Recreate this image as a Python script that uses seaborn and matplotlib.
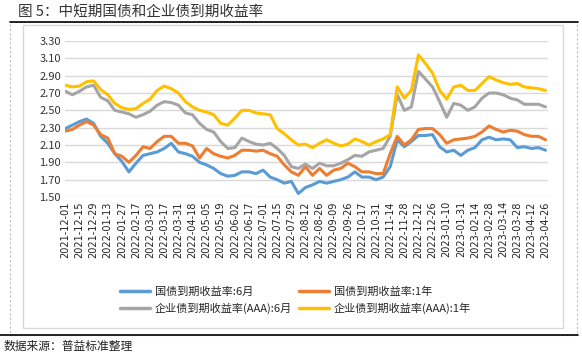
import numpy as np
import pandas as pd
import matplotlib
matplotlib.use("Agg")
import matplotlib.pyplot as plt
import seaborn as sns
from matplotlib.lines import Line2D
from matplotlib.patches import Rectangle

# trading dates, sampled every 5 trading days (ticks every 10)
dates = [
    "2021-12-01", "2021-12-08", "2021-12-15", "2021-12-22", "2021-12-29", "2022-01-06",
    "2022-01-13", "2022-01-20", "2022-01-27", "2022-02-10", "2022-02-17", "2022-02-24",
    "2022-03-03", "2022-03-10", "2022-03-17", "2022-03-24", "2022-03-31", "2022-04-11",
    "2022-04-18", "2022-04-25", "2022-05-05", "2022-05-12", "2022-05-19", "2022-05-26",
    "2022-06-02", "2022-06-10", "2022-06-17", "2022-06-24", "2022-07-01", "2022-07-08",
    "2022-07-15", "2022-07-22", "2022-07-29", "2022-08-05", "2022-08-12", "2022-08-19",
    "2022-08-26", "2022-09-02", "2022-09-09", "2022-09-19", "2022-09-26", "2022-10-10",
    "2022-10-17", "2022-10-24", "2022-10-31", "2022-11-07", "2022-11-14", "2022-11-21",
    "2022-11-28", "2022-12-05", "2022-12-12", "2022-12-19", "2022-12-26", "2023-01-03",
    "2023-01-10", "2023-01-17", "2023-01-31", "2023-02-07", "2023-02-14", "2023-02-21",
    "2023-02-28", "2023-03-07", "2023-03-14", "2023-03-21", "2023-03-28", "2023-04-04",
    "2023-04-12", "2023-04-19", "2023-04-26",
]

gov_6m = [
    2.29, 2.33, 2.37, 2.40, 2.35, 2.20, 2.12, 2.00, 1.91, 1.79, 1.89, 1.98,
    2.00, 2.02, 2.06, 2.12, 2.02, 2.00, 1.97, 1.90, 1.87, 1.83, 1.77, 1.74,
    1.75, 1.79, 1.79, 1.77, 1.81, 1.73, 1.70, 1.66, 1.68, 1.54, 1.61, 1.64,
    1.68, 1.66, 1.68, 1.70, 1.73, 1.79, 1.73, 1.73, 1.70, 1.73, 1.85, 2.16,
    2.08, 2.14, 2.21, 2.21, 2.22, 2.08, 2.02, 2.04, 1.98, 2.04, 2.07, 2.16,
    2.19, 2.16, 2.17, 2.16, 2.07, 2.08, 2.06, 2.07, 2.04,
]
gov_1y = [
    2.26, 2.28, 2.33, 2.37, 2.33, 2.22, 2.18, 2.00, 1.97, 1.90, 1.98, 2.08,
    2.06, 2.14, 2.20, 2.20, 2.12, 2.12, 2.09, 1.95, 2.06, 2.00, 1.97, 1.95,
    1.98, 2.04, 2.04, 2.03, 2.04, 2.00, 1.97, 1.87, 1.79, 1.75, 1.85, 1.75,
    1.83, 1.75, 1.81, 1.83, 1.89, 1.85, 1.79, 1.79, 1.77, 1.77, 2.00, 2.20,
    2.10, 2.16, 2.28, 2.29, 2.29, 2.22, 2.12, 2.16, 2.17, 2.18, 2.20, 2.25,
    2.32, 2.28, 2.25, 2.27, 2.26, 2.22, 2.20, 2.20, 2.16,
]
corp_6m = [
    2.72, 2.68, 2.72, 2.77, 2.79, 2.65, 2.61, 2.50, 2.48, 2.46, 2.42, 2.45,
    2.49, 2.56, 2.60, 2.59, 2.56, 2.47, 2.45, 2.35, 2.28, 2.25, 2.14, 2.06,
    2.07, 2.18, 2.14, 2.11, 2.10, 2.12, 2.06, 1.98, 1.85, 1.83, 1.88, 1.83,
    1.89, 1.86, 1.86, 1.89, 1.93, 1.98, 1.97, 2.02, 2.04, 2.06, 2.20, 2.68,
    2.50, 2.54, 2.95, 2.86, 2.77, 2.60, 2.42, 2.58, 2.56, 2.50, 2.54, 2.64,
    2.70, 2.70, 2.68, 2.64, 2.62, 2.57, 2.57, 2.57, 2.54,
]
corp_1y = [
    2.79, 2.77, 2.78, 2.83, 2.84, 2.74, 2.68, 2.58, 2.53, 2.51, 2.52, 2.58,
    2.63, 2.73, 2.78, 2.75, 2.70, 2.60, 2.54, 2.50, 2.48, 2.45, 2.35, 2.33,
    2.41, 2.50, 2.50, 2.47, 2.46, 2.45, 2.29, 2.23, 2.16, 2.10, 2.11, 2.07,
    2.12, 2.16, 2.12, 2.09, 2.11, 2.17, 2.14, 2.10, 2.14, 2.17, 2.22, 2.77,
    2.64, 2.73, 3.14, 3.04, 2.93, 2.73, 2.63, 2.77, 2.79, 2.73, 2.73, 2.81,
    2.89, 2.85, 2.82, 2.80, 2.81, 2.77, 2.76, 2.75, 2.73,
]

series_names = ["国债到期收益率:6月", "国债到期收益率:1年",
                "企业债到期收益率(AAA):6月", "企业债到期收益率(AAA):1年"]
colors = ["#5B9BD5", "#ED7D31", "#A5A5A5", "#FFC000"]
yticks = [1.50, 1.70, 1.90, 2.10, 2.30, 2.50, 2.70, 2.90, 3.10, 3.30]

df = pd.DataFrame({"date": dates,
                   series_names[0]: gov_6m, series_names[1]: gov_1y,
                   series_names[2]: corp_6m, series_names[3]: corp_1y})
long = df.melt(id_vars="date", var_name="series", value_name="rate")

sns.set_theme(style="white")
plt.rcParams["font.family"] = ["Noto Sans CJK SC", "DejaVu Sans"]
plt.rcParams["axes.unicode_minus"] = False

fig = plt.figure(figsize=(5.82, 3.56), dpi=100)
ax = fig.add_axes([0.1117, 0.4466, 0.8299, 0.4382])

sns.lineplot(data=long, x="date", y="rate", hue="series", hue_order=series_names,
             palette=colors, linewidth=2.2, ax=ax, legend=False)

ax.set_ylim(1.50, 3.30)
ax.set_yticks(yticks)
ax.set_yticklabels([f"{v:.2f}" for v in yticks], fontsize=8, color="#333333")
ax.set_xlim(-0.05, len(dates) - 1 + 0.35)
ax.set_xticks(range(0, len(dates), 2))
ax.set_xticklabels(dates[::2], rotation=90, fontsize=7, color="#222222",
                   family="DejaVu Sans")
ax.tick_params(axis="both", length=0, pad=3)
ax.set_xlabel("")
ax.set_ylabel("")
ax.grid(axis="y", color="#D9D9D9", linewidth=1)
ax.set_axisbelow(True)
for s in ax.spines.values():
    s.set_visible(False)

# legend: row 1 gov, row 2 corp
handles = [Line2D([0], [0], color=c, lw=2.5) for c in colors]
order = [0, 2, 1, 3]
ax.legend([handles[i] for i in order], [series_names[i] for i in order],
          ncol=2, frameon=False, fontsize=8, handlelength=2.7, handletextpad=0.45,
          columnspacing=0.6, labelspacing=0.55, loc="center",
          bbox_to_anchor=(0.508, 0.156), bbox_transform=fig.transFigure)

W, H = 582, 356
def fx(x): return x / W
def fy(y): return 1 - y / H

# frames
fig.add_artist(Rectangle((fx(10), fy(335)), fx(567), (335 - 22) / H, fill=False,
                         edgecolor="#BFBFBF", linewidth=0.8, linestyle=(0, (2, 2))))
fig.add_artist(Rectangle((fx(23), fy(328)), fx(540), (328 - 25) / H, fill=False,
                         edgecolor="#D9D9D9", linewidth=1))
fig.add_artist(Line2D([fx(10), fx(578)], [fy(22), fy(22)], color="black", linewidth=1.2))
fig.add_artist(Line2D([fx(0), fx(578)], [fy(335), fy(335)], color="black", linewidth=1.2))

fig.text(fx(18), fy(12), "图 5：中短期国债和企业债到期收益率", fontsize=10.5,
         fontweight="medium", color="#333333", va="center", ha="left")
fig.text(fx(4), fy(346), "数据来源：普益标准整理", fontsize=8.5, color="#222222",
         va="center", ha="left")

fig.savefig("out.png", dpi=100)
